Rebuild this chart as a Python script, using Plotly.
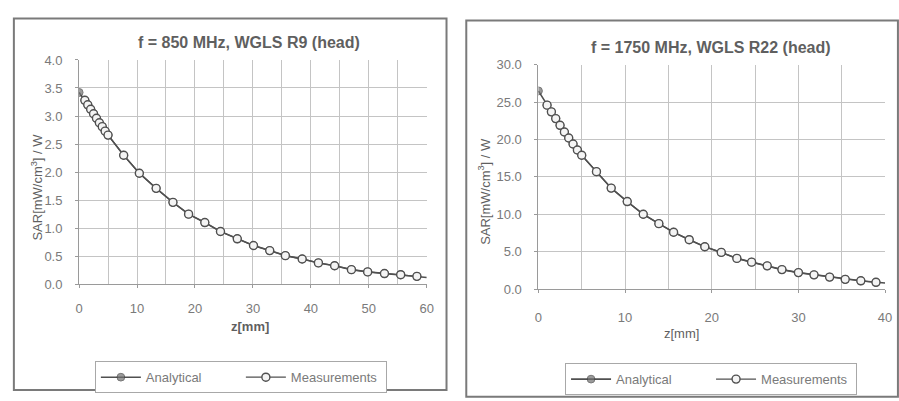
import plotly.graph_objects as go

# ---------------- data ----------------
# Left: f = 850 MHz, WGLS R9 (head)
z_meas_L = [1.0, 1.5, 2.0, 2.5, 3.0, 3.5, 4.0, 4.5, 5.0, 7.7, 10.4, 13.3, 16.2, 18.9,
            21.7, 24.4, 27.3, 30.1, 32.9, 35.6, 38.5, 41.3, 44.1, 47.0, 49.8, 52.7, 55.5, 58.3]
sar_meas_L = [3.28, 3.20, 3.12, 3.04, 2.96, 2.88, 2.81, 2.73, 2.66, 2.30, 1.98, 1.71, 1.46, 1.25,
              1.10, 0.94, 0.81, 0.69, 0.60, 0.51, 0.45, 0.38, 0.33, 0.26, 0.22, 0.19, 0.17, 0.14]
z_ana_L = [0.0] + z_meas_L + [60.0]
sar_ana_L = [3.42] + sar_meas_L + [0.12]

# Right: f = 1750 MHz, WGLS R22 (head)
z_meas_R = [1.0, 1.5, 2.0, 2.5, 3.0, 3.5, 4.0, 4.5, 5.0, 6.7, 8.4, 10.25, 12.1, 13.9,
            15.6, 17.4, 19.2, 21.1, 22.9, 24.6, 26.4, 28.1, 30.0, 31.8, 33.6, 35.4, 37.2, 38.95]
sar_meas_R = [24.6, 23.7, 22.8, 21.9, 21.0, 20.2, 19.4, 18.6, 17.9, 15.7, 13.5, 11.7, 10.0, 8.75,
              7.6, 6.6, 5.66, 4.9, 4.1, 3.6, 3.1, 2.6, 2.2, 1.9, 1.6, 1.3, 1.1, 0.9]
z_ana_R = [0.0] + z_meas_R + [40.0]
sar_ana_R = [26.5] + sar_meas_R + [0.8]

titles = ["f = 850 MHz, WGLS R9 (head)", "f = 1750 MHz, WGLS R22 (head)"]
x_title = "z[mm]"
y_title = "SAR[mW/cm<sup>3</sup>] / W"
series_names = ["Analytical", "Measurements"]

# ---------------- styling ----------------
W, H = 899, 401
TXT = "#5f5f5f"
TICK = "#7a7a7a"
GRID = "#c4c4c4"
LINE = "#505050"
FONT = "Liberation Sans, Arial, sans-serif"

def px(x):
    return x / W

def py(y):
    return 1 - y / H

fig = go.Figure()

sizes_L = [8] * (len(z_ana_L) - 1) + [0]
sizes_R = [8] * (len(z_ana_R) - 1) + [0]

for i, (za, sa, zm, sm, sz) in enumerate([
        (z_ana_L, sar_ana_L, z_meas_L, sar_meas_L, sizes_L),
        (z_ana_R, sar_ana_R, z_meas_R, sar_meas_R, sizes_R)]):
    xa = "x" if i == 0 else "x2"
    ya = "y" if i == 0 else "y2"
    lg = "legend" if i == 0 else "legend2"
    fig.add_trace(go.Scatter(
        x=za, y=sa, xaxis=xa, yaxis=ya, name=series_names[0], legend=lg,
        mode="lines+markers", line=dict(color=LINE, width=1.6),
        marker=dict(symbol="circle", size=sz, color="#707070",
                    line=dict(color="#404040", width=1))))
    fig.add_trace(go.Scatter(
        x=zm, y=sm, xaxis=xa, yaxis=ya, name=series_names[1], legend=lg,
        mode="lines+markers", line=dict(color=LINE, width=1.3),
        marker=dict(symbol="circle", size=8, color="#f4f4f4",
                    line=dict(color="#505050", width=1.4))))

axis_common = dict(showline=True, linecolor="#9a9a9a", linewidth=1, ticks="outside",
                   ticklen=3, tickcolor="#9a9a9a", gridcolor=GRID, gridwidth=1,
                   zeroline=False, tickfont=dict(family=FONT, size=13, color=TICK),
                   mirror=False)

leg_common = dict(orientation="h", xanchor="left", yanchor="top",
                  bordercolor="#a8a8a8", borderwidth=1, bgcolor="white",
                  font=dict(family=FONT, size=13, color=TICK),
                  entrywidth=90, entrywidthmode="pixels", itemwidth=40,
                  tracegroupgap=0)

fig.update_layout(
    width=W, height=H, margin=dict(l=0, r=0, t=0, b=0),
    paper_bgcolor="white", plot_bgcolor="white",
    font=dict(family=FONT, color=TXT),
    xaxis=dict(domain=[px(76), px(428)], range=[0, 60], dtick=10, anchor="y",
               ticklabelstandoff=9,
               minor=dict(dtick=5, showgrid=True, gridcolor=GRID, ticks=""), **axis_common),
    yaxis=dict(domain=[py(288), py(55)], range=[0, 4], dtick=0.5, tickformat=".1f",
               ticklabelstandoff=10, anchor="x", **axis_common),
    xaxis2=dict(domain=[px(541), px(892)], range=[0, 40], dtick=10, anchor="y2",
                ticklabelstandoff=13,
                minor=dict(dtick=5, showgrid=True, gridcolor=GRID, ticks=""), **axis_common),
    yaxis2=dict(domain=[py(293), py(60)], range=[0, 30], dtick=5, tickformat=".1f",
                ticklabelstandoff=10, anchor="x2", **axis_common),
    legend=dict(x=px(92), y=py(368), **leg_common),
    legend2=dict(x=px(568), y=py(370), **leg_common),
    showlegend=True,
)

# outer chart borders
fig.add_shape(type="rect", xref="paper", yref="paper",
              x0=px(10), x1=px(448), y0=py(398), y1=py(12),
              line=dict(color="#7a7a7a", width=2))
fig.add_shape(type="rect", xref="paper", yref="paper",
              x0=px(468), x1=px(905), y0=py(405), y1=py(14),
              line=dict(color="#7a7a7a", width=2))

# titles and axis titles
ann = [
    dict(text="<b>" + titles[0] + "</b>", x=px(248), y=py(37)),
    dict(text="<b>" + titles[1] + "</b>", x=px(716), y=py(42)),
]
for a in ann:
    fig.add_annotation(xref="paper", yref="paper", showarrow=False,
                       xanchor="center", yanchor="middle",
                       font=dict(family=FONT, size=16, color=TXT), **a)

fig.add_annotation(text="<b>" + x_title + "</b>", xref="paper", yref="paper",
                   x=px(249), y=py(332), showarrow=False, xanchor="center", yanchor="middle",
                   font=dict(family=FONT, size=13, color=TXT))
fig.add_annotation(text=x_title, xref="paper", yref="paper",
                   x=px(686), y=py(339), showarrow=False, xanchor="center", yanchor="middle",
                   font=dict(family=FONT, size=13, color=TXT))
fig.add_annotation(text=y_title, xref="paper", yref="paper",
                   x=px(33), y=py(187), showarrow=False, textangle=-90,
                   xanchor="center", yanchor="middle",
                   font=dict(family=FONT, size=13, color=TXT))
fig.add_annotation(text=y_title, xref="paper", yref="paper",
                   x=px(486), y=py(192), showarrow=False, textangle=-90,
                   xanchor="center", yanchor="middle",
                   font=dict(family=FONT, size=13, color=TXT))

fig.write_html("out.html")
